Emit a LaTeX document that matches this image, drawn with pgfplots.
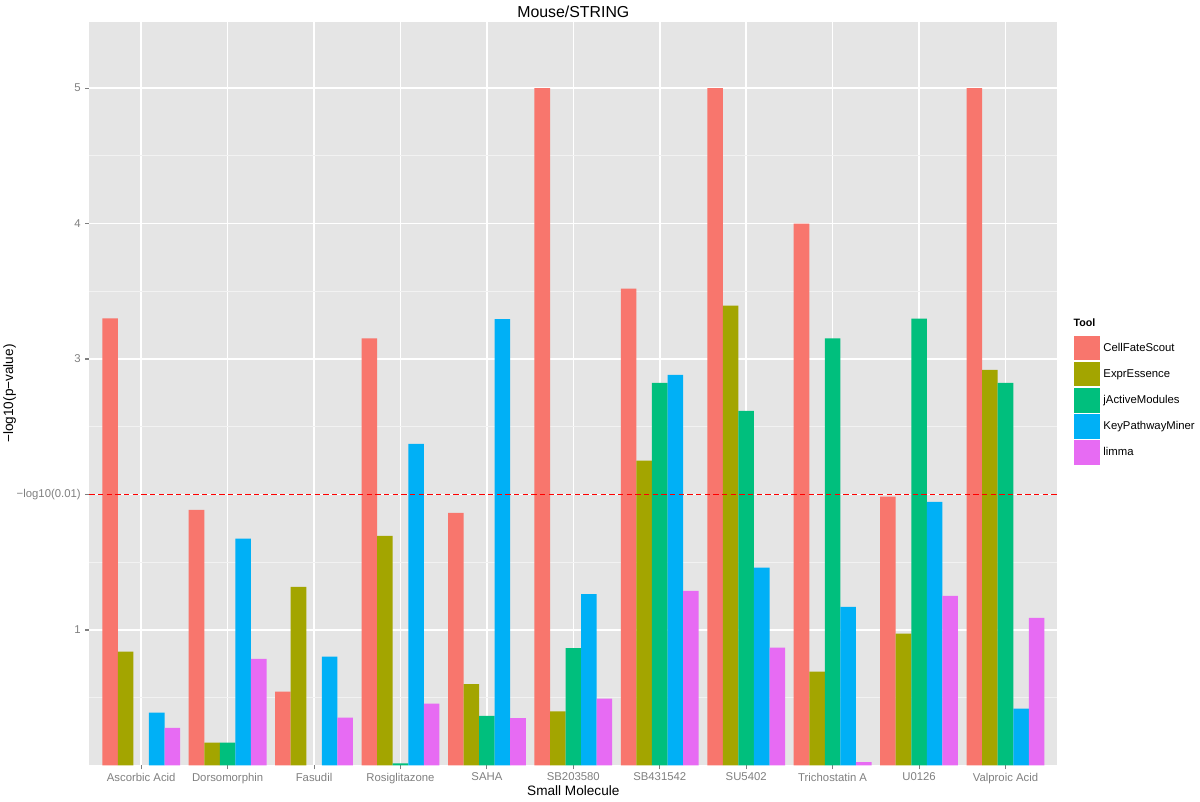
\documentclass[border=0pt]{standalone}
\usepackage{pgfplots}
\pgfplotsset{compat=1.18}
\usepackage{fontspec}
\setmainfont{Liberation Sans}

\definecolor{panel}{HTML}{E5E5E5}
\definecolor{minorgrid}{HTML}{F2F2F2}
\definecolor{ticktext}{HTML}{7F7F7F}
\definecolor{cfs}{HTML}{F8766D}
\definecolor{expr}{HTML}{A3A500}
\definecolor{jam}{HTML}{00BF7D}
\definecolor{kpm}{HTML}{00B0F6}
\definecolor{limma}{HTML}{E76BF3}

\begin{document}
\begin{tikzpicture}
\useasboundingbox (0,0) rectangle (900pt,601.5pt);
\begin{axis}[
  at={(67pt,27.4pt)}, anchor=south west,
  scale only axis, width=726pt, height=557.85pt,
  xmin=-0.6, xmax=10.6, ymin=0, ymax=5.49,
  axis background/.style={fill=panel},
  axis line style={draw=none},
  tick align=outside, tick pos=left,
  major tick length=3pt, minor tick length=0pt,
  tick style={draw=ticktext, line width=0.8pt},
  xtick={0,...,10},
  xticklabels={Ascorbic Acid,Dorsomorphin,Fasudil,Rosiglitazone,SAHA,SB203580,SB431542,SU5402,Trichostatin A,U0126,Valproic Acid},
  ytick={1,2,3,4,5},
  yticklabels={1,−log10(0.01),3,4,5},
  minor ytick={0.5,1.5,2.5,3.5,4.5},
  grid=both,
  major grid style={white, line width=1.1pt},
  minor grid style={minorgrid, line width=0.6pt},
  ticklabel style={font=\fontsize{8.5}{10}\selectfont, text=ticktext},
  xticklabel style={inner sep=0pt, anchor=north, yshift=-2.5pt},
  yticklabel style={inner sep=0pt, anchor=east, xshift=-3.3pt},
  every axis title shift=0pt,
  title={Mouse/STRING},
  title style={font=\fontsize{11.9}{14}\selectfont, at={(axis description cs:0.5,1.0137)}, anchor=center},
  xlabel={Small Molecule},
  xlabel style={font=\fontsize{10.2}{12}\selectfont, at={(axis description cs:0.5,-0.0339)}, anchor=center},
  ylabel={−log10(p−value)},
  ylabel style={font=\fontsize{10.2}{12}\selectfont, at={(axis description cs:-0.0824,0.5)}, anchor=center},
  clip=false,
  legend cell align=left,
  legend image code/.code={\draw[#1, draw=white, line width=0.6pt] (0pt,-9.5pt) rectangle (20pt,9.5pt);},
  legend style={at={(1.0165,0.5788)}, anchor=north west, draw=none, fill=none,
    inner sep=0pt, outer sep=0pt, row sep=0pt, column sep=2pt,
    font=\fontsize{8.5}{10}\selectfont, nodes={inner sep=0pt}},
]
% CellFateScout
\addplot[ybar, bar width=0.18, bar shift=-0.36, fill=cfs, draw=none] coordinates {
  (0,3.30) (1,1.887) (2,0.545) (3,3.152) (4,1.865) (5,5.0) (6,3.52) (7,5.0) (8,4.0) (9,1.985) (10,5.0)};
\addlegendentry{CellFateScout}
% ExprEssence
\addplot[ybar, bar width=0.18, bar shift=-0.18, fill=expr, draw=none] coordinates {
  (0,0.84) (1,0.168) (2,1.318) (3,1.695) (4,0.60) (5,0.40) (6,2.25) (7,3.394) (8,0.693) (9,0.973) (10,2.919)};
\addlegendentry{ExprEssence}
% jActiveModules (no bar for Ascorbic Acid and Fasudil)
\addplot[ybar, bar width=0.18, bar shift=0, fill=jam, draw=none] coordinates {
  (1,0.168) (3,0.016) (4,0.366) (5,0.866) (6,2.823) (7,2.618) (8,3.152) (9,3.298) (10,2.823)};
\addlegendentry{jActiveModules}
% KeyPathwayMiner
\addplot[ybar, bar width=0.18, bar shift=0.18, fill=kpm, draw=none] coordinates {
  (0,0.39) (1,1.675) (2,0.804) (3,2.374) (4,3.295) (5,1.264) (6,2.882) (7,1.461) (8,1.171) (9,1.946) (10,0.42)};
\addlegendentry{KeyPathwayMiner}
% limma
\addplot[ybar, bar width=0.18, bar shift=0.36, fill=limma, draw=none] coordinates {
  (0,0.277) (1,0.787) (2,0.353) (3,0.456) (4,0.349) (5,0.493) (6,1.289) (7,0.87) (8,0.024) (9,1.252) (10,1.09)};
\addlegendentry{limma}
% threshold -log10(0.01)
\addplot[red, line width=1.1pt, dash pattern=on 4pt off 2.5pt, sharp plot, forget plot] coordinates {(-0.6,2) (10.6,2)};
\node[anchor=west, inner sep=0pt, font=\bfseries\fontsize{8}{10}\selectfont] at (rel axis cs:1.0165,0.5949) {Tool};
\end{axis}
\end{tikzpicture}
\end{document}
